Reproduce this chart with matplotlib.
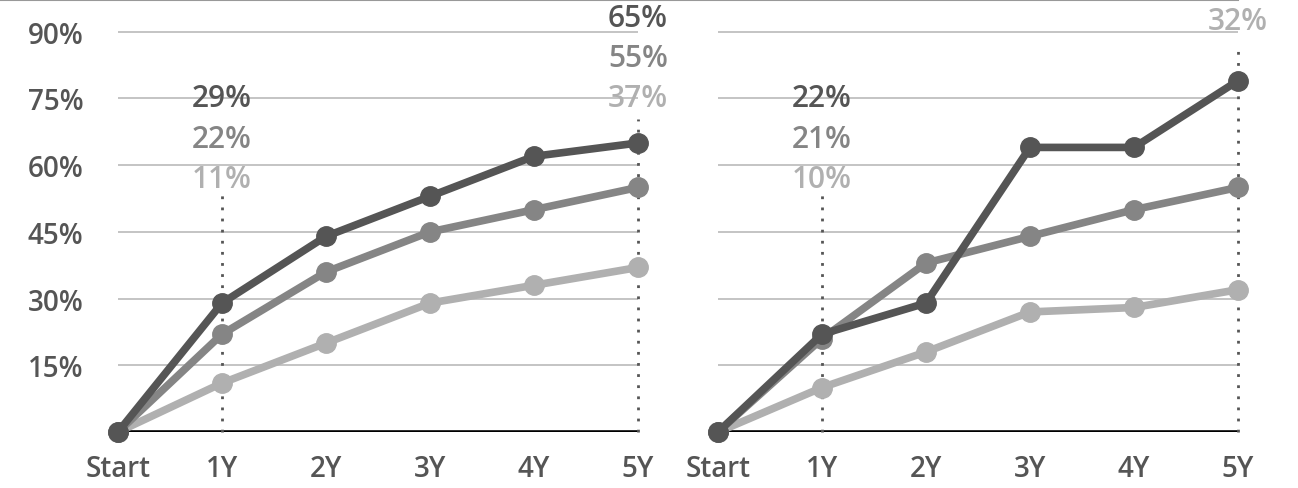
import matplotlib.pyplot as plt
from matplotlib.lines import Line2D

# ---- Data ----
periods = ["Start", "1Y", "2Y", "3Y", "4Y", "5Y"]
y_ticks = [15, 30, 45, 60, 75, 90]

left_dark = [0, 29, 44, 53, 62, 65]
left_mid = [0, 22, 36, 45, 50, 55]
left_light = [0, 11, 20, 29, 33, 37]

right_dark = [0, 22, 29, 64, 64, 79]
right_mid = [0, 21, 38, 44, 50, 55]
right_light = [0, 10, 18, 27, 28, 32]

# label stacks: (period index, value of the lowest label, top of dotted line)
left_callouts = [(1, 57, 53.5), (5, 75, 70.5)]
right_callouts = [(1, 57, 53.5), (5, 92.5, 87.0)]

COLORS = ["#555555", "#858585", "#b0b0b0"]
plt.rcParams["font.family"] = ["Open Sans", "DejaVu Sans"]

W, H = 1298, 489
PX_PER_PCT = 66.7 / 15
Y_TOP = 433 / PX_PER_PCT


def draw_panel(ax, series, callouts, show_y):
    x = list(range(len(periods)))
    ax.set_xlim(0, len(periods) - 1)
    ax.set_ylim(0, Y_TOP)

    for yt in y_ticks:
        ax.axhline(yt, color="#c4c4c4", lw=1.4, zorder=1)
    ax.axhline(0, color="black", lw=2.6, zorder=2)

    for idx, low, top in callouts:
        ax.plot([idx, idx], [0, top], color="#555555", lw=2,
                linestyle=(0, (1, 3)), zorder=2, clip_on=False)

    # draw lightest first so darker lines sit on top
    for vals, col in reversed(list(zip(series, COLORS))):
        ax.plot(x, vals, color=col, lw=5.5, marker="o", markersize=14,
                solid_capstyle="round", zorder=3, clip_on=False)

    for idx, low, top in callouts:
        for k, (vals, col) in enumerate(zip(series, COLORS)):
            ypos = low + (2 - k) * 9.0
            if ypos > Y_TOP:
                continue  # falls above the figure edge, as in the original
            ax.text(idx, ypos, f"{vals[idx]}%", color=col,
                    fontsize=21.5, fontweight="semibold", ha="center", va="center",
                    clip_on=False, zorder=4)

    for s in ax.spines.values():
        s.set_visible(False)
    ax.set_xticks(x)
    ax.set_xticklabels(periods)
    ax.tick_params(axis="x", length=0, pad=16, labelsize=20, labelcolor="#555555")
    for lab in ax.get_xticklabels():
        lab.set_fontweight("semibold")
    if show_y:
        ax.set_yticks(y_ticks)
        ax.set_yticklabels([f"{v}%" for v in y_ticks])
        ax.tick_params(axis="y", length=0, pad=25, labelsize=20, labelcolor="#555555")
        for lab in ax.get_yticklabels():
            lab.set_fontweight("semibold")
    else:
        ax.set_yticks([])


fig = plt.figure(figsize=(W / 100, H / 100), dpi=100)
ax1 = fig.add_axes([118 / W, (H - 433) / H, 520 / W, 433 / H])
ax2 = fig.add_axes([718 / W, (H - 433) / H, 520 / W, 433 / H])

draw_panel(ax1, [left_dark, left_mid, left_light], left_callouts, True)
draw_panel(ax2, [right_dark, right_mid, right_light], right_callouts, False)

# thin rule along the top edge
fig.add_artist(Line2D([0, 1238 / W], [1 - 1 / H, 1 - 1 / H], color="#999999", lw=1.5))

fig.savefig("out.png", dpi=100)
